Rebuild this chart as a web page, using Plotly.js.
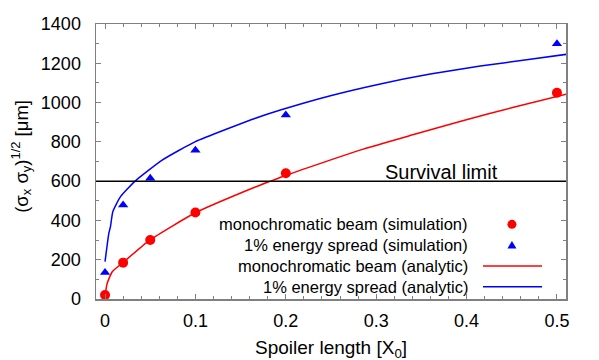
<!DOCTYPE html>
<html>
<head>
<meta charset="utf-8">
<script src="https://cdn.plot.ly/plotly-3.0.1.min.js"></script>
<style>
  html, body { margin: 0; padding: 0; background: #fff; }
  #chart { width: 599px; height: 360px; }
</style>
</head>
<body>
<div id="chart"></div>
<script>
// simulation points
const spoilerLength = [0, 0.02, 0.05, 0.1, 0.2, 0.5];
const monoSim = [20, 185, 300, 440, 640, 1050];
const spreadSim = [135, 478, 615, 757, 937, 1300];

// analytic curves, sampled along the drawn lines
const monoCurveX = [0, 0.0024, 0.008, 0.0197, 0.0495, 0.1, 0.1635, 0.183, 0.1996, 0.282, 0.3414, 0.3967, 0.452, 0.511];
const monoCurveY = [18, 80, 139, 185, 300, 439, 565, 600, 629, 758, 837, 909, 976, 1043];
const spreadCurveX = [0, 0.0042, 0.006, 0.0086, 0.0171, 0.033, 0.0632, 0.1, 0.1664, 0.194, 0.2494, 0.3046, 0.3599, 0.4152, 0.4705, 0.511];
const spreadCurveY = [190, 334, 368, 444, 521, 599, 707, 801, 920, 962, 1035, 1095, 1145, 1186, 1220, 1246];

const survivalLimit = 600;

const legendLabels = [
  "monochromatic beam (simulation)",
  "1% energy spread (simulation)",
  "monochromatic beam (analytic)",
  "1% energy spread (analytic)",
];

const RED = "#ff0000";
const BLUE = "#0000ff";
const FRAME = "#808080";
const FONT = "Liberation Sans, Arial, sans-serif";

const traces = [
  {
    x: monoCurveX, y: monoCurveY, type: "scatter", mode: "lines",
    line: { color: RED, width: 1.5, shape: "spline", smoothing: 0.5 },
  },
  {
    x: spreadCurveX, y: spreadCurveY, type: "scatter", mode: "lines",
    line: { color: BLUE, width: 1.5, shape: "spline", smoothing: 0.5 },
  },
  {
    x: spoilerLength, y: monoSim, type: "scatter", mode: "markers",
    marker: { color: RED, symbol: "circle", size: 10 },
  },
  {
    x: spoilerLength, y: spreadSim, type: "scatter", mode: "markers",
    marker: { color: BLUE, symbol: "triangle-up", size: 9 },
  },
];

// legend rows: text on the left, sample on the right (gnuplot style)
const rowY = [0.2716, 0.1964, 0.12, 0.0447];
const annotations = legendLabels.map((txt, i) => ({
  text: txt, xref: "paper", yref: "paper", x: 0.7957, y: rowY[i],
  xanchor: "right", yanchor: "middle", showarrow: false,
  font: { size: 16.5, color: "#000" },
}));

annotations.push(
  {
    text: "Survival limit", xref: "paper", yref: "y", x: 0.6106, y: survivalLimit,
    xanchor: "left", yanchor: "bottom", yshift: -4, showarrow: false,
    font: { size: 20, color: "#000" },
  },
  {
    text: "Spoiler length [X<sub>0</sub>]", xref: "paper", yref: "paper",
    x: 0.5, y: -0.183, xanchor: "center", yanchor: "middle", showarrow: false,
    font: { size: 19, color: "#000" },
  },
  {
    text: "(σ<sub>x</sub> σ<sub>y</sub>)<sup>1/2</sup> [μm]", xref: "paper", yref: "paper",
    x: -0.16, y: 0.52, xanchor: "center", yanchor: "middle", textangle: -90,
    showarrow: false, font: { size: 18.5, color: "#000" },
  }
);

const shapes = [
  {
    type: "line", xref: "paper", yref: "y", x0: 0, x1: 1,
    y0: survivalLimit, y1: survivalLimit, line: { color: "#000", width: 1.5 },
  },
  {
    type: "circle", xref: "paper", yref: "paper", xsizemode: "pixel", ysizemode: "pixel",
    xanchor: 0.885, yanchor: rowY[0], x0: -4.5, x1: 4.5, y0: -4.5, y1: 4.5,
    fillcolor: RED, line: { width: 0 },
  },
  {
    type: "path", xref: "paper", yref: "paper", xsizemode: "pixel", ysizemode: "pixel",
    xanchor: 0.885, yanchor: rowY[1], path: "M-4.5,-3.5 L4.5,-3.5 L0,4 Z",
    fillcolor: BLUE, line: { width: 0 },
  },
  {
    type: "line", xref: "paper", yref: "paper", x0: 0.8234, x1: 0.949,
    y0: rowY[2], y1: rowY[2], line: { color: RED, width: 1.5 },
  },
  {
    type: "line", xref: "paper", yref: "paper", x0: 0.8234, x1: 0.949,
    y0: rowY[3], y1: rowY[3], line: { color: BLUE, width: 1.5 },
  },
];

const axisCommon = {
  showgrid: false, zeroline: false,
  showline: true, linecolor: FRAME, linewidth: 1.5, mirror: "allticks",
  ticks: "inside", ticklen: 5, tickwidth: 1, tickcolor: FRAME,
  tickfont: { size: 18, color: "#000" },
};

const layout = {
  width: 599, height: 360,
  margin: { l: 96, r: 33, t: 24, b: 61 },
  paper_bgcolor: "#fff", plot_bgcolor: "#fff",
  font: { family: FONT, color: "#000" },
  showlegend: false,
  xaxis: Object.assign({}, axisCommon, {
    range: [-0.01, 0.51], tick0: 0, dtick: 0.1, ticklabelstandoff: 5,
    minor: { dtick: 0.02, ticks: "inside", ticklen: 3, tickcolor: FRAME },
  }),
  yaxis: Object.assign({}, axisCommon, {
    range: [0, 1400], tick0: 0, dtick: 200, ticklabelstandoff: 10,
    minor: { dtick: 100, ticks: "inside", ticklen: 3, tickcolor: FRAME },
  }),
  annotations: annotations,
  shapes: shapes,
};

Plotly.newPlot("chart", traces, layout, { displayModeBar: false, staticPlot: true });
</script>
</body>
</html>
